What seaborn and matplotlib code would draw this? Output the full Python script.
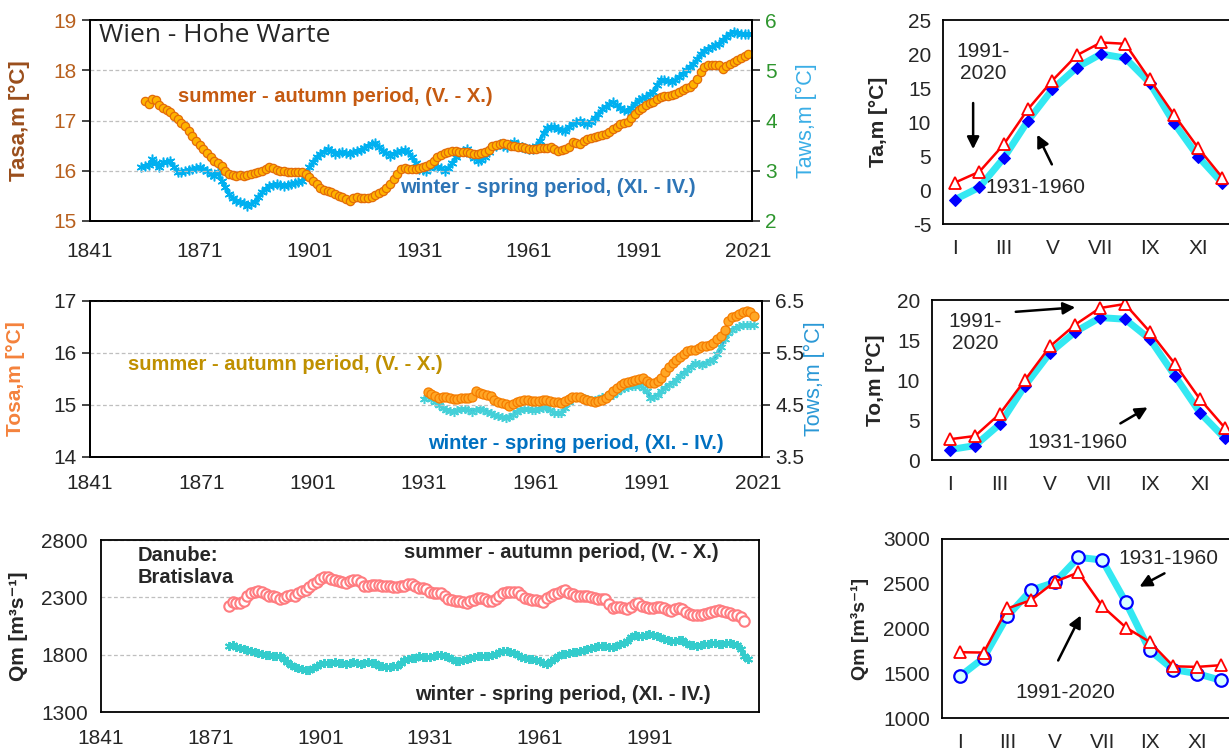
import numpy as np
import seaborn as sns
import matplotlib.pyplot as plt
from matplotlib.ticker import MultipleLocator, FixedLocator

sns.set_style("white")
plt.rcParams['font.family'] = ['Liberation Sans', 'DejaVu Sans']
plt.rcParams['axes.unicode_minus'] = False

# ---------------- data ----------------
# Wien - Hohe Warte, moving means of air temperature
tasa_years = np.arange(1856, 2022)
tasa = [17.38, 17.33, 17.42, 17.41, 17.31, 17.25, 17.21, 17.17, 17.08, 17.02,
        16.95, 16.90, 16.80, 16.70, 16.60, 16.52, 16.43, 16.35, 16.27, 16.20,
        16.15, 16.10, 16.00, 15.93, 15.91, 15.90, 15.91, 15.90, 15.92, 15.93,
        15.95, 15.98, 16.00, 16.03, 16.07, 16.05, 16.02, 16.00, 15.99, 15.98,
        15.97, 15.97, 15.97, 15.97, 15.93, 15.88, 15.80, 15.73, 15.66, 15.62,
        15.60, 15.57, 15.54, 15.50, 15.47, 15.43, 15.40, 15.45, 15.47, 15.46,
        15.45, 15.46, 15.47, 15.52, 15.55, 15.60, 15.66, 15.73, 15.83, 15.93,
        16.03, 16.06, 16.04, 16.03, 16.03, 16.05, 16.07, 16.10, 16.13, 16.20,
        16.28, 16.32, 16.35, 16.37, 16.40, 16.40, 16.38, 16.37, 16.37, 16.35,
        16.33, 16.34, 16.36, 16.37, 16.42, 16.50, 16.52, 16.54, 16.55, 16.53,
        16.50, 16.49, 16.48, 16.47, 16.45, 16.44, 16.43, 16.44, 16.45, 16.45,
        16.46, 16.47, 16.43, 16.39, 16.41, 16.44, 16.47, 16.57, 16.55, 16.53,
        16.60, 16.63, 16.65, 16.67, 16.69, 16.71, 16.73, 16.78, 16.83, 16.88,
        16.93, 16.95, 16.98, 17.05, 17.12, 17.20, 17.25, 17.30, 17.34, 17.37,
        17.42, 17.46, 17.48, 17.49, 17.50, 17.53, 17.57, 17.61, 17.64, 17.67,
        17.73, 17.82, 17.97, 18.07, 18.10, 18.10, 18.10, 18.10, 18.03, 18.08,
        18.13, 18.17, 18.21, 18.24, 18.28, 18.32]

taws_years = np.arange(1855, 2022)
taws = [3.07, 3.10, 3.12, 3.23, 3.15, 3.07, 3.17, 3.18, 3.20, 3.07,
        2.98, 2.97, 3.00, 3.01, 3.03, 3.05, 3.07, 3.03, 3.00, 2.93,
        2.90, 2.97, 2.80, 2.67, 2.53, 2.45, 2.40, 2.38, 2.36, 2.30,
        2.33, 2.38, 2.47, 2.57, 2.64, 2.70, 2.72, 2.73, 2.72, 2.70,
        2.72, 2.74, 2.75, 2.77, 2.80, 2.93, 3.07, 3.18, 3.27, 3.33,
        3.38, 3.43, 3.40, 3.34, 3.36, 3.37, 3.35, 3.33, 3.37, 3.40,
        3.42, 3.45, 3.50, 3.53, 3.55, 3.48, 3.40, 3.35, 3.30, 3.34,
        3.37, 3.40, 3.42, 3.38, 3.27, 3.15, 3.03, 3.02, 3.00, 3.05,
        3.10, 3.08, 3.05, 3.00, 3.05, 3.15, 3.27, 3.35, 3.40, 3.43,
        3.33, 3.25, 3.20, 3.22, 3.27, 3.37, 3.47, 3.50, 3.53, 3.50,
        3.47, 3.52, 3.57, 3.52, 3.47, 3.45, 3.44, 3.43, 3.50, 3.60,
        3.75, 3.85, 3.88, 3.87, 3.83, 3.82, 3.80, 3.87, 3.93, 3.97,
        4.00, 3.96, 3.93, 3.98, 4.05, 4.13, 4.22, 4.27, 4.32, 4.37,
        4.30, 4.25, 4.20, 4.18, 4.25, 4.33, 4.40, 4.44, 4.47, 4.52,
        4.57, 4.70, 4.80, 4.80, 4.79, 4.77, 4.80, 4.86, 4.92, 5.00,
        5.07, 5.13, 5.22, 5.32, 5.39, 5.43, 5.46, 5.50, 5.53, 5.60,
        5.67, 5.72, 5.77, 5.75, 5.73, 5.73, 5.72]

# Danube water temperature
tosa_years = np.arange(1932, 2021)
tosa = [15.25, 15.22, 15.18, 15.13, 15.15, 15.16, 15.13, 15.11, 15.12, 15.14,
        15.14, 15.14, 15.16, 15.26, 15.24, 15.22, 15.20, 15.17, 15.10, 15.05,
        15.04, 15.02, 14.99, 15.02, 15.06, 15.08, 15.09, 15.09, 15.08, 15.07,
        15.08, 15.09, 15.10, 15.07, 15.05, 15.05, 15.04, 15.08, 15.11, 15.15,
        15.16, 15.16, 15.12, 15.09, 15.07, 15.06, 15.08, 15.10, 15.14, 15.20,
        15.27, 15.33, 15.38, 15.42, 15.45, 15.47, 15.49, 15.50, 15.51, 15.46,
        15.43, 15.42, 15.47, 15.52, 15.64, 15.74, 15.80, 15.87, 15.93, 15.98,
        16.03, 16.05, 16.06, 16.10, 16.14, 16.13, 16.16, 16.20, 16.26, 16.32,
        16.45, 16.62, 16.69, 16.72, 16.75, 16.78, 16.80, 16.78, 16.72]

tows_years = np.arange(1931, 2021)
tows = [4.62, 4.66, 4.62, 4.56, 4.50, 4.45, 4.41, 4.39, 4.37, 4.40,
        4.42, 4.43, 4.40, 4.37, 4.40, 4.43, 4.40, 4.37, 4.34, 4.30,
        4.28, 4.26, 4.25, 4.27, 4.30, 4.36, 4.41, 4.42, 4.42, 4.41,
        4.41, 4.43, 4.45, 4.47, 4.40, 4.35, 4.34, 4.34, 4.45, 4.55,
        4.62, 4.65, 4.66, 4.63, 4.61, 4.60, 4.59, 4.62, 4.65, 4.67,
        4.68, 4.69, 4.75, 4.81, 4.83, 4.85, 4.86, 4.87, 4.88, 4.83,
        4.76, 4.64, 4.66, 4.69, 4.76, 4.83, 4.88, 4.93, 4.98, 5.05,
        5.12, 5.17, 5.24, 5.30, 5.29, 5.27, 5.30, 5.34, 5.37, 5.48,
        5.62, 5.77, 5.88, 5.95, 5.99, 6.01, 6.03, 6.04, 6.04, 6.03]

# Danube discharge at Bratislava
qsa_years = np.arange(1876, 2018)
qsa = [2226, 2263, 2250, 2249, 2270, 2310, 2342, 2350, 2352, 2345,
       2325, 2315, 2310, 2300, 2286, 2298, 2312, 2320, 2315, 2335,
       2355, 2365, 2390, 2415, 2437, 2460, 2480, 2475, 2460, 2452,
       2445, 2435, 2425, 2445, 2452, 2448, 2430, 2400, 2395, 2408,
       2408, 2405, 2402, 2400, 2395, 2390, 2388, 2395, 2400, 2412,
       2420, 2400, 2382, 2378, 2372, 2350, 2337, 2338, 2337, 2310,
       2287, 2275, 2270, 2267, 2262, 2252, 2268, 2280, 2290, 2292,
       2282, 2272, 2268, 2285, 2310, 2340, 2343, 2343, 2345, 2350,
       2320, 2295, 2285, 2278, 2275, 2265, 2258, 2292, 2310, 2325,
       2340, 2352, 2360, 2340, 2325, 2310, 2310, 2314, 2308, 2302,
       2295, 2286, 2286, 2285, 2240, 2210, 2212, 2218, 2205, 2195,
       2220, 2240, 2250, 2225, 2215, 2210, 2210, 2217, 2212, 2208,
       2190, 2180, 2200, 2205, 2195, 2175, 2155, 2145, 2142, 2148,
       2152, 2165, 2172, 2185, 2192, 2182, 2172, 2160, 2150, 2142,
       2132, 2093]

qws_years = np.arange(1876, 2019)
qws = [1872, 1886, 1870, 1857, 1848, 1840, 1830, 1825, 1816, 1808,
       1800, 1795, 1790, 1788, 1785, 1762, 1735, 1712, 1695, 1685,
       1675, 1664, 1668, 1685, 1698, 1720, 1727, 1727, 1730, 1732,
       1728, 1725, 1722, 1728, 1732, 1726, 1721, 1728, 1732, 1729,
       1727, 1705, 1697, 1693, 1695, 1698, 1705, 1727, 1750, 1765,
       1775, 1772, 1786, 1783, 1780, 1777, 1787, 1795, 1793, 1785,
       1777, 1760, 1745, 1742, 1755, 1765, 1775, 1784, 1786, 1786,
       1786, 1790, 1798, 1808, 1820, 1830, 1834, 1826, 1818, 1800,
       1782, 1772, 1766, 1762, 1752, 1742, 1730, 1720, 1742, 1765,
       1785, 1805, 1810, 1815, 1820, 1826, 1832, 1840, 1850, 1862,
       1866, 1872, 1877, 1872, 1866, 1863, 1878, 1892, 1905, 1920,
       1950, 1969, 1960, 1962, 1972, 1978, 1972, 1964, 1950, 1935,
       1925, 1921, 1921, 1925, 1929, 1905, 1885, 1880, 1877, 1885,
       1892, 1895, 1898, 1900, 1895, 1892, 1900, 1906, 1895, 1880,
       1850, 1790, 1765]

# monthly means
months = np.arange(1, 13)
month_labels = ['I', 'III', 'V', 'VII', 'IX', 'XI']
ta_1931 = [-1.4, 0.4, 4.7, 10.2, 14.8, 18.0, 20.0, 19.4, 15.8, 9.9, 4.9, 1.0]
ta_1991 = [1.1, 2.7, 6.7, 11.9, 16.1, 19.8, 21.7, 21.5, 16.3, 11.1, 6.2, 1.8]
to_1931 = [1.3, 1.8, 4.5, 9.3, 13.4, 16.0, 17.8, 17.6, 15.1, 10.5, 5.9, 2.7]
to_1991 = [2.6, 3.0, 5.8, 10.0, 14.2, 16.9, 19.0, 19.5, 16.0, 12.0, 7.6, 4.0]
q_1931 = [1466, 1672, 2138, 2429, 2515, 2795, 2765, 2291, 1757, 1541, 1496, 1422]
q_1991 = [1735, 1731, 2224, 2317, 2522, 2627, 2250, 2011, 1851, 1578, 1571, 1590]

# ---------------- figure ----------------
W, H = 1229, 751
fig = plt.figure(figsize=(W / 100, H / 100), dpi=100)


def pos(l, t, r, b):
    return [l / W, 1 - b / H, (r - l) / W, (b - t) / H]


TICK = 15
NOTE = 14.5
GRID = dict(color='#BFBFBF', linestyle=(0, (3, 2)), linewidth=0.9)


def style_years(ax):
    ax.xaxis.set_major_locator(FixedLocator(range(1841, 2022, 30)))
    ax.xaxis.set_minor_locator(FixedLocator(range(1841, 2022, 10)))
    ax.tick_params(axis='x', which='both', direction='out', length=6, width=1.2,
                   labelsize=TICK, pad=6)
    for s in ax.spines.values():
        s.set_color('black')
        s.set_linewidth(1.3)
    ax.set_xlabel('')


def style_months(ax):
    ax.xaxis.set_major_locator(FixedLocator([1, 3, 5, 7, 9, 11]))
    ax.set_xticklabels(month_labels)
    ax.xaxis.set_minor_locator(FixedLocator(np.arange(0.5, 12.6, 1)))
    ax.tick_params(axis='x', which='major', length=0, labelsize=TICK, pad=11)
    ax.tick_params(axis='x', which='minor', direction='out', length=6, width=1.2)
    ax.tick_params(axis='y', direction='out', length=5, width=1.2, labelsize=TICK)
    for s in ax.spines.values():
        s.set_color('black')
        s.set_linewidth(1.3)
    ax.set_xlabel('')


ast = (6, 2, 0)

# ---- panel 1: air temperature ----
ax1 = fig.add_axes(pos(90, 20, 752, 221))
ax1b = ax1.twinx()
sns.lineplot(x=taws_years, y=taws, ax=ax1b, color='#00B0F0', lw=2.5,
             marker=ast, ms=7, mew=1.1, mec='#00B0F0')
sns.lineplot(x=tasa_years, y=tasa, ax=ax1, marker='o', ms=6, mfc='#FFB300',
             mec='#E36C09', mew=0.9, color='#E36C09', lw=1)
ax1.set_zorder(ax1b.get_zorder() + 1)
ax1.patch.set_visible(False)
ax1.set_xlim(1841, 2022)
ax1.set_ylim(15, 19)
ax1b.set_ylim(2, 6)
ax1.yaxis.set_major_locator(MultipleLocator(1))
ax1b.yaxis.set_major_locator(MultipleLocator(1))
ax1.grid(axis='y', **GRID)
style_years(ax1)
ax1.tick_params(axis='x', pad=9)
ax1.tick_params(axis='y', direction='out', length=6, width=1.2, labelsize=TICK,
                labelcolor='#B8601E')
ax1b.tick_params(axis='y', direction='out', length=6, width=1.2, labelsize=TICK,
                 labelcolor='#2E962E')
for s in ax1b.spines.values():
    s.set_color('black')
    s.set_linewidth(1.3)
ax1.set_ylabel('Tasa,m [°C]', fontsize=16, fontweight='bold', color='#9A4E1C')
ax1.yaxis.set_label_coords(-0.091, 0.5)
ax1b.set_ylabel('Taws,m [°C]', fontsize=15.5, color='#3AAEE6')
ax1b.yaxis.set_label_coords(1.066, 0.5)
ax1.text(1843.5, 18.7, 'Wien - Hohe Warte', fontsize=19,
         family=['Open Sans', 'DejaVu Sans'], va='center')
ax1.text(1865, 17.47, 'summer - autumn period, (V. - X.)', fontsize=NOTE,
         fontweight='bold', color='#C55A11', va='center')
ax1.text(1925.8, 15.66, 'winter - spring period, (XI. - IV.)', fontsize=NOTE,
         fontweight='bold', color='#2E75B6', va='center')

# ---- panel 2: water temperature ----
ax2 = fig.add_axes(pos(90, 301, 762, 457))
ax2b = ax2.twinx()
sns.lineplot(x=tows_years, y=tows, ax=ax2b, color='#2BAAD8', lw=2.5,
             marker=ast, ms=6.5, mew=1.1, mec='#45D0D8')
sns.lineplot(x=tosa_years, y=tosa, ax=ax2, marker='o', ms=6.5, mfc='#FFA726',
             mec='#F57C00', mew=0.9, color='#F57C00', lw=1)
ax2.set_zorder(ax2b.get_zorder() + 1)
ax2.patch.set_visible(False)
ax2.set_xlim(1841, 2022.1)
ax2.set_ylim(14, 17)
ax2b.set_ylim(3.5, 6.5)
ax2.yaxis.set_major_locator(MultipleLocator(1))
ax2b.yaxis.set_major_locator(FixedLocator([3.5, 4.5, 5.5, 6.5]))
ax2.grid(axis='y', **GRID)
style_years(ax2)
ax2.tick_params(axis='y', direction='out', length=6, width=1.2, labelsize=TICK)
ax2b.tick_params(axis='y', direction='out', length=6, width=1.2, labelsize=TICK)
for s in ax2b.spines.values():
    s.set_color('black')
    s.set_linewidth(1.3)
ax2.set_ylabel('Tosa,m [°C]', fontsize=15, fontweight='bold', color='#F4823C')
ax2.yaxis.set_label_coords(-0.097, 0.5)
ax2b.set_ylabel('Tows,m [°C]', fontsize=15.5, color='#2A98D6')
ax2b.yaxis.set_label_coords(1.063, 0.5)
ax2.text(1851.2, 15.77, 'summer - autumn period, (V. - X.)', fontsize=NOTE,
         fontweight='bold', color='#BF9000', va='center')
ax2.text(1932, 14.25, 'winter - spring period, (XI. - IV.)', fontsize=NOTE,
         fontweight='bold', color='#0070C0', va='center', clip_on=True)

# ---- panel 3: discharge ----
ax3 = fig.add_axes(pos(101, 540, 759, 712))
sns.lineplot(x=qws_years, y=qws, ax=ax3, color='#33CCCC', lw=1.2,
             marker=ast, ms=6.5, mew=1.4, mec='#33CCCC')
sns.lineplot(x=qsa_years, y=qsa, ax=ax3, lw=0, marker='o', ms=7.5,
             mfc='white', mec='#FF7C80', mew=1.5)
ax3.set_xlim(1841, 2021)
ax3.set_ylim(1300, 2800)
ax3.yaxis.set_major_locator(FixedLocator([1300, 1800, 2300, 2800]))
ax3.grid(axis='y', **GRID)
style_years(ax3)
ax3.set_xticks([1841, 1871, 1901, 1931, 1961, 1991])
ax3.tick_params(axis='y', direction='out', length=6, width=1.2, labelsize=TICK)
ax3.set_ylabel('Qm [m³s⁻¹]', fontsize=15, fontweight='bold')
ax3.yaxis.set_label_coords(-0.111, 0.5)
ax3.text(1851, 2745, 'Danube:\nBratislava', fontsize=NOTE, fontweight='bold',
         va='top', linespacing=1.2)
ax3.text(1924, 2690, 'summer - autumn period, (V. - X.)', fontsize=NOTE,
         fontweight='bold', va='center')
ax3.text(1927, 1455, 'winter - spring period, (XI. - IV.)', fontsize=NOTE,
         fontweight='bold', va='center')

# ---- monthly panels ----
old_kw = dict(color='#33E8F2', lw=5)
new_kw = dict(color='#FF0000', lw=1.8, marker='^', ms=9, mfc='white',
              mec='#FF0000', mew=1.3)
arrow = dict(arrowstyle='-|>', color='black', lw=1.8, mutation_scale=18)
RNOTE = 15

ax4 = fig.add_axes(pos(943, 20, 1234.6, 224))
sns.lineplot(x=months, y=ta_1931, ax=ax4, marker='D', ms=6.5, mfc='#0000FF',
             mec='#0000FF', **old_kw)
sns.lineplot(x=months, y=ta_1991, ax=ax4, **new_kw)
ax4.set_xlim(0.5, 12.5)
ax4.set_ylim(-5, 25)
ax4.yaxis.set_major_locator(MultipleLocator(5))
style_months(ax4)
ax4.set_ylabel('Ta,m [°C]', fontsize=15, fontweight='bold')
ax4.yaxis.set_label_coords(-0.19, 0.5)
ax4.text(2.15, 18.8, '1991-\n2020', fontsize=RNOTE, ha='center', va='center')
ax4.annotate('', xy=(1.74, 5.6), xytext=(1.74, 13.2), arrowprops=arrow)
ax4.text(4.29, 0.44, '1931-1960', fontsize=RNOTE, ha='center', va='center')
ax4.annotate('', xy=(4.33, 8.5), xytext=(5.03, 3.4), arrowprops=arrow)

ax5 = fig.add_axes(pos(932, 300, 1237.5, 460))
sns.lineplot(x=months, y=to_1931, ax=ax5, marker='D', ms=6.5, mfc='#0000FF',
             mec='#0000FF', **old_kw)
sns.lineplot(x=months, y=to_1991, ax=ax5, **new_kw)
ax5.set_xlim(0.28, 12.5)
ax5.set_ylim(0, 20)
ax5.yaxis.set_major_locator(MultipleLocator(5))
style_months(ax5)
ax5.set_ylabel('To,m [°C]', fontsize=15, fontweight='bold')
ax5.yaxis.set_label_coords(-0.154, 0.5)
ax5.text(2.0, 15.9, '1991-\n2020', fontsize=RNOTE, ha='center', va='center')
ax5.annotate('', xy=(6.12, 19.1), xytext=(3.52, 18.5), arrowprops=arrow)
ax5.text(6.08, 2.25, '1931-1960', fontsize=RNOTE, ha='center', va='center')
ax5.annotate('', xy=(9.0, 6.75), xytext=(7.72, 4.4), arrowprops=arrow)

ax6 = fig.add_axes(pos(941.7, 539, 1232.6, 718))
sns.lineplot(x=months, y=q_1931, ax=ax6, marker='o', ms=9, mfc='#D8FFFF',
             mec='#0000FF', mew=1.6, **old_kw)
sns.lineplot(x=months, y=q_1991, ax=ax6, **new_kw)
ax6.set_xlim(0.23, 12.5)
ax6.set_ylim(1000, 3000)
ax6.yaxis.set_major_locator(MultipleLocator(500))
style_months(ax6)
ax6.set_ylabel('Qm [m³s⁻¹]', fontsize=14, fontweight='bold')
ax6.yaxis.set_label_coords(-0.25, 0.5)
ax6.text(9.78, 2777, '1931-1960', fontsize=RNOTE, ha='center', va='center')
ax6.annotate('', xy=(8.47, 2453), xytext=(9.73, 2631), arrowprops=arrow)
ax6.text(5.43, 1290, '1991-2020', fontsize=RNOTE, ha='center', va='center')
ax6.annotate('', xy=(6.15, 2173), xytext=(5.09, 1615), arrowprops=arrow)

for a in (ax1, ax1b, ax2, ax2b, ax3, ax4, ax5, ax6):
    leg = a.get_legend()
    if leg:
        leg.remove()

fig.savefig('out.png', dpi=100)
